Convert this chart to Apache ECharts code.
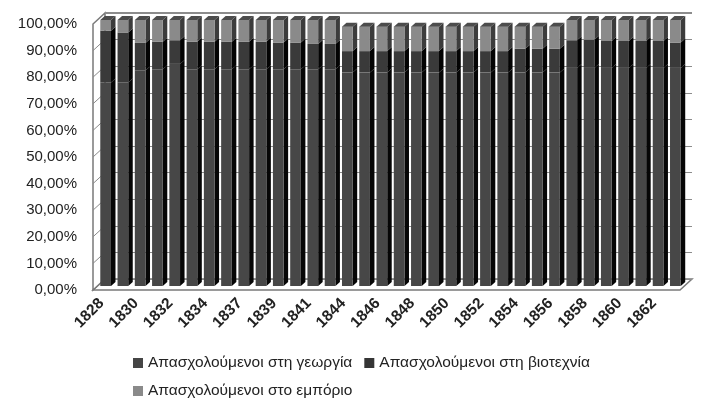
<!DOCTYPE html>
<html>
<head>
<meta charset="utf-8">
<script src="https://cdn.jsdelivr.net/npm/echarts@6/dist/echarts.min.js"></script>
<style>
html,body{margin:0;padding:0;background:#fff}
#chart{width:711px;height:405px}
</style>
</head>
<body>
<div id="chart"></div>
<script>
// years (labels shown on every other one)
var years = ['1828','1829','1830','1831','1832','1833','1834','1835',
	'1837','1838','1839','1840','1841','1842',
	'1844','1845','1846','1847','1848','1849','1850','1851','1852','1853',
	'1854','1855','1856','1857','1858','1859','1860','1861','1862','1863'];
// share of workers, %
var agri = [76.5,76.5,81,81.5,83.5,81.5,81.5,81.5,81.5,81.5,81.5,81.5,81.5,81.5,
	80.3,80.3,80.3,80.3,80.3,80.3,80.3,80.3,80.3,80.3,80.3,80.3,80.3,
	82,82,82,82,82,82,82];
var crafts = [19.5,18.8,10.4,10.3,8.9,10.3,10.3,10.3,10.3,10.3,10.0,10.0,9.5,9.5,
	8.0,8.0,8.0,8.0,8.0,8.0,8.0,8.0,8.0,8.0,8.9,8.9,8.9,
	10.4,10.6,10.1,10.1,10.1,10.1,9.5];
var commerce = [4.0,4.7,8.6,8.2,7.6,8.2,8.2,8.2,8.2,8.2,8.5,8.5,9.0,9.0,
	9.2,9.2,9.2,9.2,9.2,9.2,9.2,9.2,9.2,9.2,8.3,8.3,8.3,
	7.6,7.4,7.9,7.9,7.9,7.9,8.5];
var seriesNames = ['Απασχολούμενοι στη γεωργία','Απασχολούμενοι στη βιοτεχνία','Απασχολούμενοι στο εμπόριο'];

var frontCol = ['#474747','#3a3a3a','#8a8a8a'];
var sideCol = ['#060606','#030303','#3c3c3c'];
var topCol = '#4c4c4c';

// 3d box geometry (front plane / back wall)
var FX0 = 93, FX1 = 680, FY0 = 24, FY1 = 290;
var DX = 12, DY = -11;

var chart = echarts.init(document.getElementById('chart'));

function stackData(){
	var out = [[],[],[]];
	for(var i=0;i<years.length;i++){
		var a = agri[i], b = a + crafts[i], c = b + commerce[i];
		out[0].push([i, 0, a]);
		out[1].push([i, a, b]);
		out[2].push([i, b, c]);
	}
	return out;
}
var stacked = stackData();

function makeRender(k){
	return function(params, api){
		var i = api.value(0), lo = api.value(1), hi = api.value(2);
		var p0 = api.coord([i, lo]), p1 = api.coord([i, hi]);
		var band = api.size([1,0])[0];
		var w = band*0.62, dx = 4.5, dy = -4;
		var x = p0[0]-w/2;
		var ch = [
			{type:'polygon', shape:{points:[[x+w,p1[1]],[x+w+dx,p1[1]+dy],[x+w+dx,p0[1]+dy],[x+w,p0[1]]]}, style:{fill:sideCol[k]}},
			{type:'rect', shape:{x:x, y:p1[1], width:w, height:p0[1]-p1[1]}, style:{fill:frontCol[k]}}
		];
		if(k==2){
			ch.push({type:'polygon', shape:{points:[[x,p1[1]],[x+dx,p1[1]+dy],[x+w+dx,p1[1]+dy],[x+w,p1[1]]]}, style:{fill:topCol}});
		}
		return {type:'group', children:ch};
	};
}

// wall + floor decoration
var graphics = [];
graphics.push({type:'polygon', z:-10, shape:{points:[[FX0,FY1],[FX1,FY1],[FX1+DX,FY1+DY],[FX0+DX,FY1+DY]]}, style:{fill:'#fff', stroke:'#7a7a7a', lineWidth:1.5}});
graphics.push({type:'polygon', z:-10, shape:{points:[[FX0,FY0],[FX0+DX,FY0+DY],[FX0+DX,FY1+DY],[FX0,FY1]]}, style:{fill:'#fff', stroke:'#7a7a7a', lineWidth:1.5}});
for(var t=1;t<10;t++){
	var yy = FY1 - (FY1-FY0)*t/10;
	graphics.push({type:'line', z:-9, shape:{x1:FX0, y1:yy, x2:FX0+DX, y2:yy+DY}, style:{stroke:'#8a8a8a', lineWidth:1}});
}
graphics.push({type:'line', z:-9, shape:{x1:FX0+DX, y1:FY0+DY, x2:FX1+DX, y2:FY0+DY}, style:{stroke:'#8c8c8c', lineWidth:2}});

var option = {
	animation:false,
	graphic: graphics,
	legend:{
		left:128, top:350, width:495,
		itemWidth:10, itemHeight:10, itemGap:12, icon:'rect',
		textStyle:{fontFamily:'Liberation Sans', fontSize:15.5, color:'#222'},
		data: seriesNames
	},
	grid:[
		{left:97, right:27, top:20, bottom:119},
		{left:FX0, right:711-FX1, top:FY0, bottom:405-FY1},
		{left:FX0+DX, right:711-FX1-DX, top:FY0+DY, bottom:405-FY1-DY}
	],
	xAxis:[
		{type:'category', gridIndex:0, data:years, show:false},
		{type:'category', gridIndex:1, data:years,
			axisLine:{show:false}, axisTick:{show:false},
			axisLabel:{interval:1, rotate:45, margin:11, fontFamily:'Liberation Sans', fontSize:15.5, fontWeight:'bold', color:'#222'}},
		{type:'category', gridIndex:2, data:years, show:false}
	],
	yAxis:[
		{type:'value', gridIndex:0, min:0, max:100, show:false, splitLine:{show:false}},
		{type:'value', gridIndex:1, min:0, max:100, interval:10,
			axisLine:{show:false}, axisTick:{show:false}, splitLine:{show:false},
			axisLabel:{margin:16, fontFamily:'Liberation Sans', fontSize:15, color:'#222',
				formatter:function(v){ return v.toFixed(2).replace('.',',')+'%'; }}},
		{type:'value', gridIndex:2, min:0, max:100, interval:10,
			axisLine:{show:false}, axisTick:{show:false}, axisLabel:{show:false},
			splitLine:{lineStyle:{color:'#8c8c8c', width:1.2}}}
	],
	series:[0,1,2].map(function(k){
		return {
			type:'custom', name:seriesNames[k], xAxisIndex:0, yAxisIndex:0,
			itemStyle:{color:[ '#454545','#353535','#8a8a8a'][k]},
			renderItem:makeRender(k),
			encode:{x:0, y:[1,2]},
			data:stacked[k]
		};
	})
};
chart.setOption(option);
</script>
</body>
</html>
